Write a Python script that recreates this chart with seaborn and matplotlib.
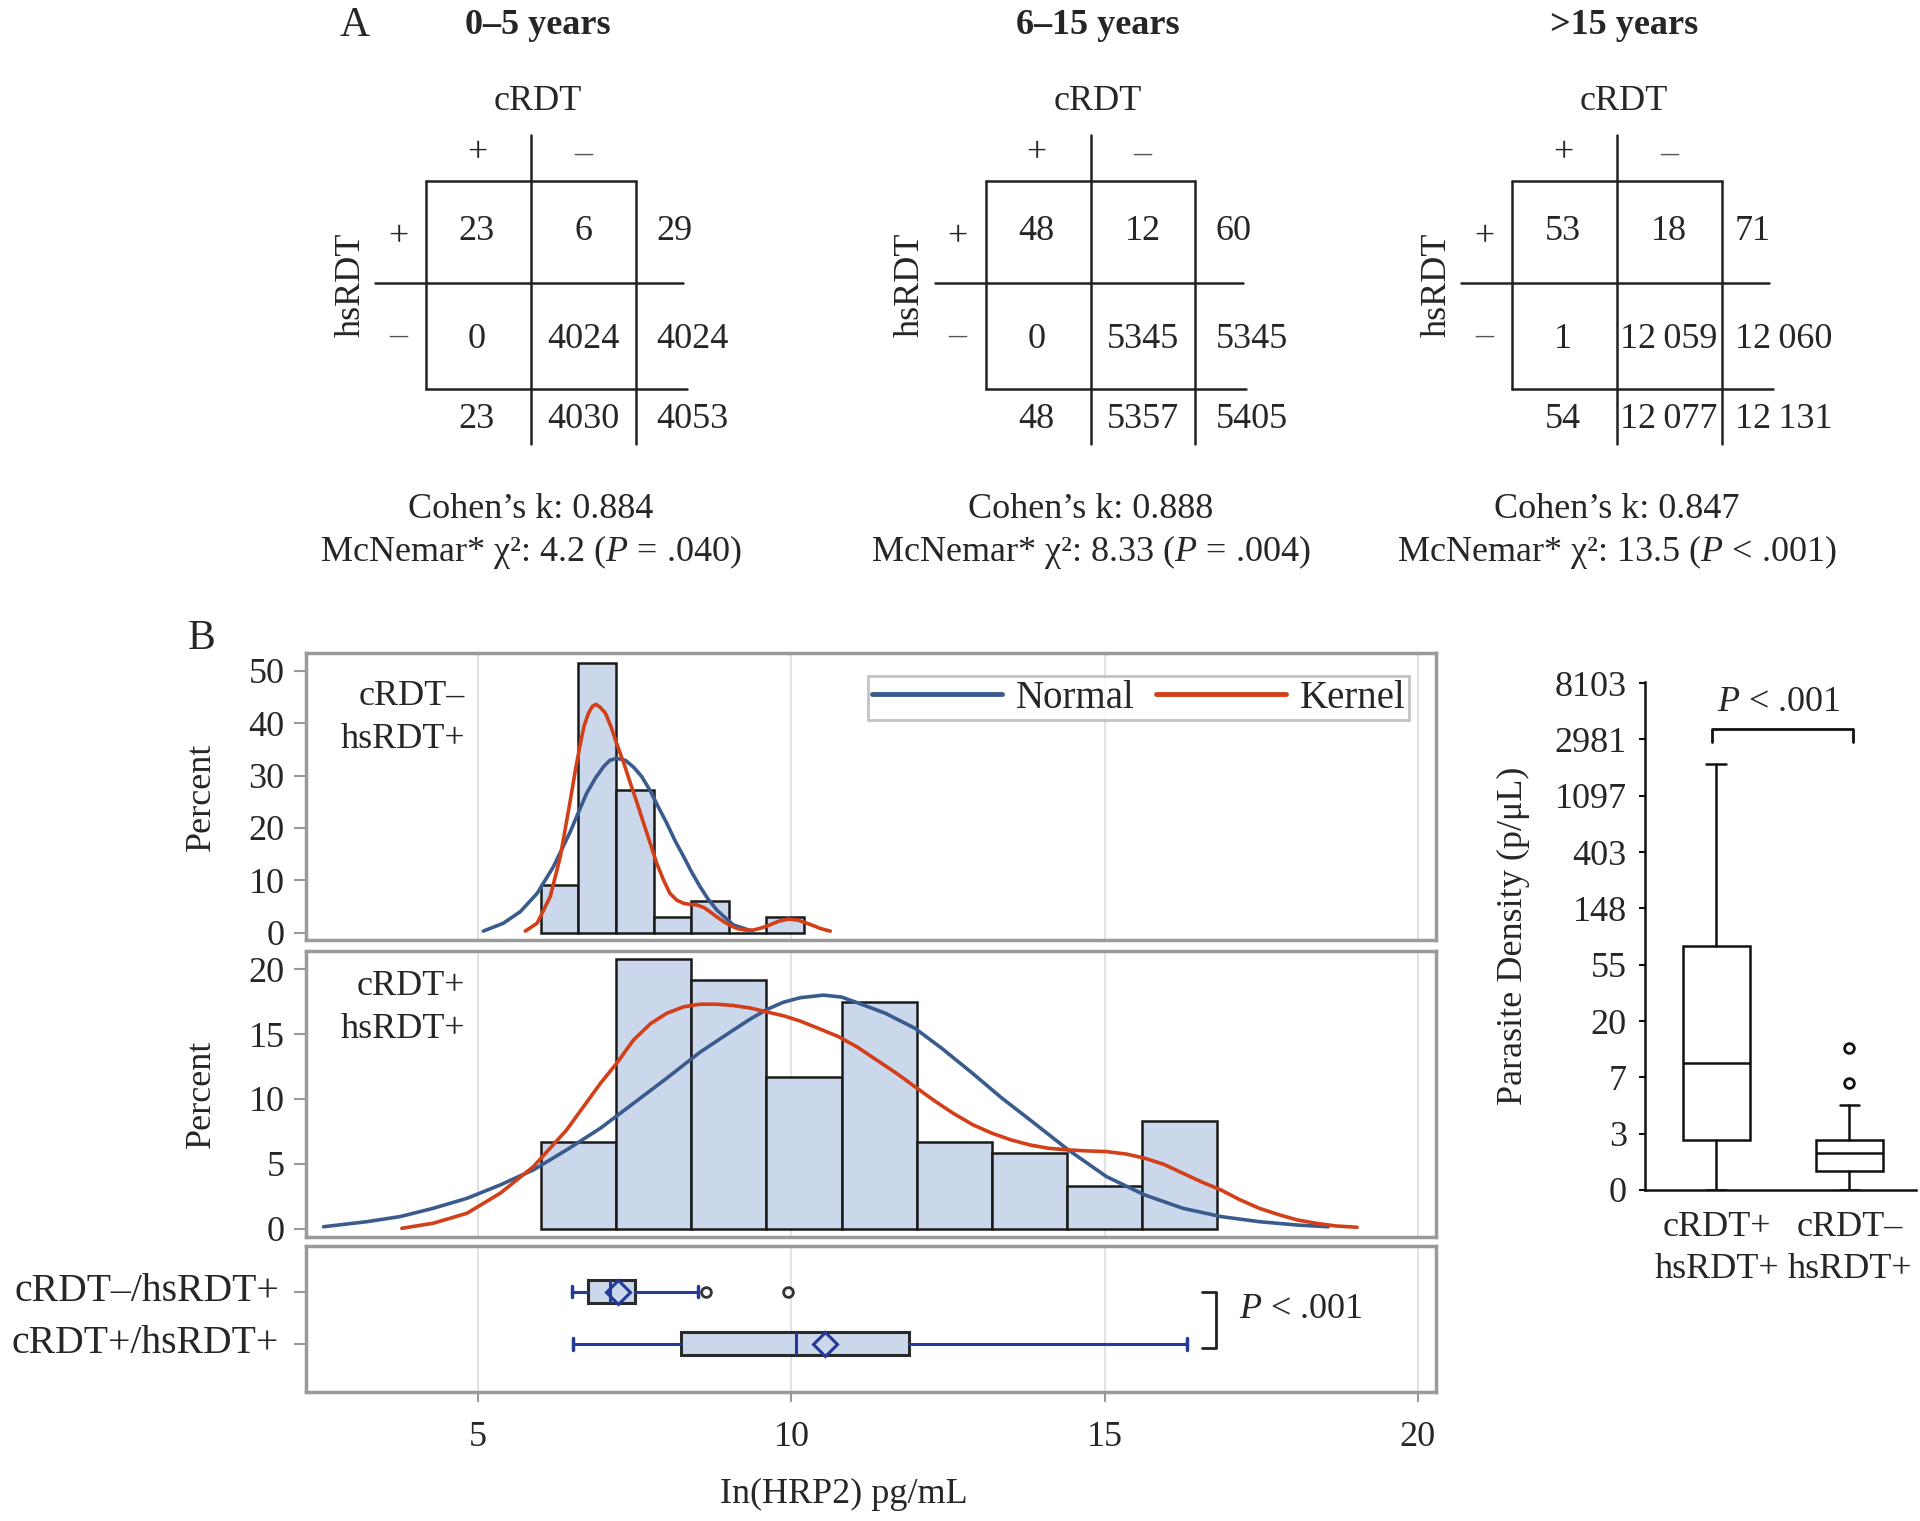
import matplotlib
matplotlib.use("Agg")
import matplotlib.pyplot as plt
import matplotlib.transforms as mtrans
import numpy as np
import seaborn as sns

sns.set_style("white")
plt.rcParams['font.family'] = ['Liberation Serif', 'DejaVu Serif']
plt.rcParams['mathtext.fontset'] = 'custom'
plt.rcParams['mathtext.rm'] = 'Liberation Serif'
plt.rcParams['mathtext.it'] = 'Liberation Serif:italic'
plt.rcParams['mathtext.bf'] = 'Liberation Serif:bold'

# ---------------- Panel A data ----------------
age_groups = ["0–5 years", "6–15 years", ">15 years"]
counts_0_5 = [[23, 6, 29], [0, 4024, 4024], [23, 4030, 4053]]
counts_6_15 = [[48, 12, 60], [0, 5345, 5345], [48, 5357, 5405]]
counts_gt15 = [[53, 18, 71], [1, 12059, 12060], [54, 12077, 12131]]
cohen_k = ["0.884", "0.888", "0.847"]
mcnemar_chi2 = ["4.2", "8.33", "13.5"]
mcnemar_p = ["= .040", "= .004", "< .001"]

# ---------------- Panel B histogram data ----------------
bins_neg = [6.0, 6.6, 7.2, 7.8, 8.4, 9.0, 9.6, 10.2]
pct_neg = [9.1, 51.5, 27.3, 3.0, 6.1, 0.0, 3.0]
bins_pos = [6.0, 7.2, 8.4, 9.6, 10.8, 12.0, 13.2, 14.4, 15.6, 16.8]
pct_pos = [6.7, 20.8, 19.2, 11.7, 17.5, 6.7, 5.8, 3.3, 8.3]

normal_neg_x = [5.08, 5.40, 5.67, 5.94, 6.20, 6.47, 6.60, 6.73, 6.87, 7.00, 7.10, 7.21, 7.35, 7.48,
                7.61, 7.74, 7.87, 8.01, 8.14, 8.28, 8.41, 8.54, 8.67, 8.81, 9.07, 9.37]
normal_neg_y = [0.3, 1.8, 4.0, 7.5, 12.6, 19.3, 23.0, 26.6, 29.5, 31.7, 32.9, 33.3, 32.9, 31.6,
                29.8, 27.2, 24.1, 20.9, 17.6, 14.5, 11.5, 8.8, 6.4, 4.3, 1.5, 0.3]
kernel_neg_x = [5.75, 5.94, 6.15, 6.31, 6.47, 6.55, 6.63, 6.69, 6.76, 6.82, 6.88, 6.95, 7.03, 7.12,
                7.21, 7.32, 7.43, 7.54, 7.64, 7.75, 7.85, 7.96, 8.06, 8.17, 8.28, 8.38, 8.49, 8.60,
                8.70, 8.81, 8.92, 9.02, 9.13, 9.26, 9.39, 9.52, 9.66, 9.80, 9.95, 10.10, 10.25,
                10.36, 10.46, 10.62]
kernel_neg_y = [0.3, 1.8, 6.9, 14.5, 25.3, 31.0, 36.1, 39.5, 41.9, 43.2, 43.6, 43.0, 41.9, 39.3,
                36.1, 32.5, 28.5, 24.6, 20.9, 16.9, 13.2, 10.0, 7.5, 6.2, 5.6, 5.4, 5.3, 4.8,
                4.0, 3.0, 2.1, 1.4, 0.8, 0.5, 0.5, 0.9, 1.5, 2.2, 2.6, 2.4, 1.8, 1.3, 0.8, 0.3]

normal_pos_x = [2.53, 3.22, 3.75, 4.28, 4.82, 5.35, 5.88, 6.41, 6.95, 7.48, 8.01, 8.54, 9.07, 9.34,
                9.61, 9.87, 10.14, 10.51, 10.80, 11.06, 11.50, 11.97, 12.40, 12.89, 13.35, 13.81,
                14.42, 15.03, 15.64, 16.25, 16.86, 17.47, 18.08, 18.57]
normal_pos_y = [0.15, 0.54, 0.93, 1.57, 2.34, 3.37, 4.53, 6.07, 7.74, 9.67, 11.6, 13.6, 15.3, 16.15,
                16.9, 17.45, 17.8, 18.0, 17.85, 17.4, 16.6, 15.45, 13.9, 11.98, 10.1, 8.38,
                6.07, 4.01, 2.60, 1.57, 0.93, 0.54, 0.28, 0.15]
kernel_pos_x = [3.78, 4.28, 4.82, 5.35, 5.88, 6.41, 6.95, 7.21, 7.48, 7.75, 8.01, 8.28, 8.54, 8.81,
                9.07, 9.35, 9.61, 9.88, 10.14, 10.45, 10.75, 11.05, 11.36, 11.67, 11.97, 12.27,
                12.58, 12.90, 13.20, 13.50, 13.81, 14.10, 14.42, 14.70, 15.03, 15.35, 15.64, 15.95,
                16.25, 16.55, 16.86, 17.15, 17.47, 17.80, 18.08, 18.40, 18.69, 19.03]
kernel_pos_y = [0.03, 0.42, 1.19, 2.73, 4.78, 7.61, 11.2, 12.75, 14.55, 15.8, 16.6, 17.1, 17.3, 17.3,
                17.2, 17.0, 16.7, 16.4, 16.0, 15.4, 14.8, 14.0, 13.0, 12.0, 10.95, 9.9,
                8.9, 8.0, 7.36, 6.85, 6.45, 6.2, 6.07, 6.0, 5.94, 5.75, 5.43, 4.95,
                4.27, 3.6, 2.98, 2.25, 1.57, 1.05, 0.67, 0.4, 0.21, 0.11]

# ---------------- Panel B box plot data (ln HRP2) ----------------
group_labels = ["cRDT–/hsRDT+", "cRDT+/hsRDT+"]
hrp2_whislo = [6.49, 6.52]
hrp2_q1 = [6.76, 8.23]
hrp2_med = [7.10, 10.08]
hrp2_mean = [7.23, 10.53]
hrp2_q3 = [7.51, 11.88]
hrp2_whishi = [8.51, 16.31]
hrp2_fliers = [[8.63, 9.95], []]

# ---------------- Parasite density box plot (log scale units) ----------------
pd_groups = ["cRDT+\nhsRDT+", "cRDT–\nhsRDT+"]
pd_whislo = [0.0, 0.0]
pd_q1 = [0.88, 0.33]
pd_med = [2.26, 0.65]
pd_q3 = [4.33, 0.89]
pd_whishi = [7.56, 1.51]
pd_fliers = [[], [1.90, 2.53]]
pd_tick_labels = ["0", "3", "7", "20", "55", "148", "403", "1097", "2981", "8103"]

# ---------------- styling ----------------
W, H = 1920, 1521
FS = 26
FILL = '#cbd7ea'
BLUE = '#3a5b8d'
RED = '#d23f19'
NAVY = '#233a9a'
FRAME = '#9a9a9a'
GRID = '#e3e3e3'

fig = plt.figure(figsize=(W / 100, H / 100), dpi=100)


def frac(l, t, r, b):
    return [l / W, 1 - b / H, (r - l) / W, (b - t) / H]


XLIM = (2.25, 20.29)

ax_top = fig.add_axes(frac(306, 653, 1436, 940))
ax_mid = fig.add_axes(frac(306, 951, 1436, 1237))
ax_box = fig.add_axes(frac(306, 1246, 1436, 1392))
ax_pd = fig.add_axes(frac(1645, 682, 1916, 1190))


def style_frame(ax):
    for s in ax.spines.values():
        s.set_visible(True)
        s.set_color(FRAME)
        s.set_linewidth(2.5)
    ax.set_xlim(*XLIM)
    ax.set_xticks([5, 10, 15, 20])
    ax.grid(axis='x', color=GRID, lw=1.5)
    ax.grid(axis='y', visible=False)
    ax.set_axisbelow(True)


def hist_panel(ax, edges, pct, nx, ny, kx, ky, ylim, yticks, label, label_y, legend):
    centers = [(a + b) / 2 for a, b in zip(edges[:-1], edges[1:])]
    sns.histplot(x=centers, weights=pct, bins=edges, ax=ax, color=FILL, alpha=1,
                 edgecolor='#1a1a1a', linewidth=1.8, legend=False)
    sns.lineplot(x=nx, y=ny, ax=ax, color=BLUE, lw=2.6, label='Normal' if legend else None,
                 legend=False)
    sns.lineplot(x=kx, y=ky, ax=ax, color=RED, lw=2.6, label='Kernel' if legend else None,
                 legend=False)
    style_frame(ax)
    ax.set_ylim(*ylim)
    ax.set_yticks(yticks)
    ax.tick_params(axis='x', length=0, labelbottom=False)
    ax.tick_params(axis='y', direction='out', length=8.5, width=1.5, color=FRAME,
                   labelsize=FS, pad=7, left=True)
    ax.set_xlabel('')
    ax.set_ylabel('Percent', fontsize=FS)
    ax.yaxis.set_label_coords(-0.078, 0.5)
    ax.text(0.141, label_y, label, transform=ax.transAxes, ha='right', va='center',
            fontsize=FS, linespacing=1.4)


hist_panel(ax_top, bins_neg, pct_neg, normal_neg_x, normal_neg_y, kernel_neg_x, kernel_neg_y,
           (-1.4, 53.4), [0, 10, 20, 30, 40, 50], "cRDT–\nhsRDT+", 0.775, True)
leg = ax_top.legend(loc='upper right', bbox_to_anchor=(0.9765, 0.921), ncol=2, fontsize=28,
                    handlelength=3.35, handletextpad=0.35, columnspacing=0.55, frameon=True,
                    fancybox=False, edgecolor='#b5b5b5', borderpad=0.1, borderaxespad=0)
leg.get_frame().set_linewidth(2)
for ln in leg.get_lines():
    ln.set_linewidth(3.5)

hist_panel(ax_mid, bins_pos, pct_pos, normal_pos_x, normal_pos_y, kernel_pos_x, kernel_pos_y,
           (-0.64, 21.4), [0, 5, 10, 15, 20], "cRDT+\nhsRDT+", 0.80, False)

# ---- horizontal box plots ----
stats = []
for i in range(len(group_labels)):
    stats.append(dict(whislo=hrp2_whislo[i], q1=hrp2_q1[i], med=hrp2_med[i], q3=hrp2_q3[i],
                      whishi=hrp2_whishi[i], mean=hrp2_mean[i], fliers=hrp2_fliers[i],
                      label=group_labels[i]))
bkw = dict(positions=[0, 1], widths=0.44, patch_artist=True, showmeans=True, capwidths=0.22,
           manage_ticks=False,
           boxprops=dict(facecolor=FILL, edgecolor='#2a2a2a', linewidth=2.2),
           whiskerprops=dict(color=NAVY, linewidth=2.2),
           capprops=dict(color=NAVY, linewidth=2.5),
           medianprops=dict(color=NAVY, linewidth=2.2),
           meanprops=dict(marker='D', markerfacecolor='none', markeredgecolor=NAVY,
                          markersize=12, markeredgewidth=2.2),
           flierprops=dict(marker='o', markerfacecolor='none', markeredgecolor='#333333',
                           markersize=7, markeredgewidth=2))
try:
    ax_box.bxp(stats, orientation='horizontal', **bkw)
except TypeError:
    ax_box.bxp(stats, vert=False, **bkw)
style_frame(ax_box)
ax_box.set_ylim(1.92, -0.87)
ax_box.set_yticks([0, 1])
ax_box.set_yticklabels([])
ax_box.tick_params(axis='y', direction='out', length=8.5, width=1.5, color=FRAME, left=True)
ytr = mtrans.blended_transform_factory(ax_box.transAxes, ax_box.transData)
for i, lab in enumerate(group_labels):
    ax_box.text(-0.0239, i, lab, transform=ytr, ha='right', va='center', fontsize=28.5)
ax_box.tick_params(axis='x', direction='out', length=7, width=1.5, color=FRAME,
                   labelsize=FS, pad=14, bottom=True)
ax_box.set_xlabel('In(HRP2) pg/mL', fontsize=FS)
ax_box.xaxis.set_label_coords(0.476, -0.59)
# significance bracket
ax_box.plot([16.56, 16.78, 16.78, 16.56], [0.0, 0.0, 1.08, 1.08], color='#222222', lw=2,
            clip_on=False)
ax_box.text(17.15, 0.35, '$P$ < .001', fontsize=FS, ha='left', va='center')

# ---- parasite density box plot ----
pstats = []
for i in range(len(pd_groups)):
    pstats.append(dict(whislo=pd_whislo[i], q1=pd_q1[i], med=pd_med[i], q3=pd_q3[i],
                       whishi=pd_whishi[i], fliers=pd_fliers[i], label=pd_groups[i]))
ax_pd.bxp(pstats, positions=[0, 1], widths=0.5, capwidths=0.15, patch_artist=True,
          manage_ticks=False,
          boxprops=dict(facecolor='white', edgecolor='#111111', linewidth=1.8),
          whiskerprops=dict(color='#111111', linewidth=1.8),
          capprops=dict(color='#111111', linewidth=1.8),
          medianprops=dict(color='#111111', linewidth=1.8),
          flierprops=dict(marker='o', markerfacecolor='none', markeredgecolor='#111111',
                          markersize=7, markeredgewidth=2))
ax_pd.set_xlim(-0.537, 1.5)
ax_pd.set_ylim(0, 9.02)
ax_pd.set_yticks(range(len(pd_tick_labels)))
ax_pd.set_yticklabels(pd_tick_labels)
ax_pd.set_xticks([0, 1])
ax_pd.set_xticklabels(pd_groups, linespacing=1.38)
for side in ['top', 'right']:
    ax_pd.spines[side].set_visible(False)
for side in ['left', 'bottom']:
    ax_pd.spines[side].set_color('#111111')
    ax_pd.spines[side].set_linewidth(1.8)
ax_pd.tick_params(axis='y', direction='out', length=4, width=1.5, color='#111111',
                  labelsize=FS, pad=9, left=True)
ax_pd.tick_params(axis='x', length=0, labelsize=FS, pad=15)
ax_pd.set_ylabel('Parasite Density (p/μL)', fontsize=FS)
ax_pd.yaxis.set_label_coords(-0.424, 0.5)
ax_pd.grid(False)
ax_pd.plot([-0.03, -0.03, 1.03, 1.03], [7.96, 8.19, 8.19, 7.96], color='#111111', lw=2,
           clip_on=False)
ax_pd.text(0.47, 8.66, '$P$ < .001', fontsize=FS, ha='center', va='center')

# ---------------- Panel A (contingency tables) ----------------
axA = fig.add_axes([0, 0, 1, 1])
axA.set_xlim(0, W)
axA.set_ylim(H, 0)
axA.axis('off')
axA.patch.set_alpha(0)


def fmt(n):
    s = str(n)
    if n >= 10000:
        s = s[:-3] + '\u2009' + s[-3:]
    return s


def draw_table(v, title, counts, k, chi2, p, right_off):
    lc = '#222222'
    lw = 1.8
    axA.plot([v, v], [135, 444], color=lc, lw=lw)
    axA.plot([v - 105, v + 104.7], [180.5, 180.5], color=lc, lw=lw)
    axA.plot([v - 105, v - 105], [180.5, 389], color=lc, lw=lw)
    axA.plot([v + 104.7, v + 104.7], [180.5, 444], color=lc, lw=lw)
    axA.plot([v - 156, v + 152.3], [283, 283], color=lc, lw=lw)
    axA.plot([v - 105, v + 155.7], [389, 389], color=lc, lw=lw)
    axA.text(v + 7, 26, title, fontsize=FS, fontweight='bold', ha='center', va='center')
    axA.text(v + 7, 102, 'cRDT', fontsize=FS, ha='center', va='center')
    axA.text(v - 54, 154, '+', fontsize=FS, ha='center', va='center')
    axA.text(v + 52, 154, '–', fontsize=FS, ha='center', va='center', color='#555555')
    axA.text(v - 180, 285, 'hsRDT', fontsize=FS, rotation=90, ha='center', va='center')
    axA.text(v - 133, 238, '+', fontsize=FS, ha='center', va='center')
    axA.text(v - 133, 336, '–', fontsize=FS, ha='center', va='center', color='#555555')
    rows_y = [232, 339, 420]
    for r, yy in enumerate(rows_y):
        axA.text(v - 54, yy, fmt(counts[r][0]), fontsize=FS, ha='center', va='center')
        axA.text(v + 52, yy, fmt(counts[r][1]), fontsize=FS, ha='center', va='center')
        axA.text(v + right_off, yy, fmt(counts[r][2]), fontsize=FS, ha='left', va='center')
    axA.text(v, 509, f"Cohen’s k: {k}", fontsize=FS, ha='center', va='center')
    axA.text(v, 552, f"McNemar* χ²: {chi2} ($P$ {p})", fontsize=FS, ha='center', va='center')


table_counts = [counts_0_5, counts_6_15, counts_gt15]
table_v = [531, 1090.6, 1617]
right_offsets = [125, 125, 118]
for i in range(3):
    draw_table(table_v[i], age_groups[i], table_counts[i], cohen_k[i], mcnemar_chi2[i],
               mcnemar_p[i], right_offsets[i])

axA.text(355, 26, 'A', fontsize=30, ha='center', va='center')
axA.text(202, 639, 'B', fontsize=30, ha='center', va='center')

fig.savefig('out.png', dpi=100, facecolor='white')
